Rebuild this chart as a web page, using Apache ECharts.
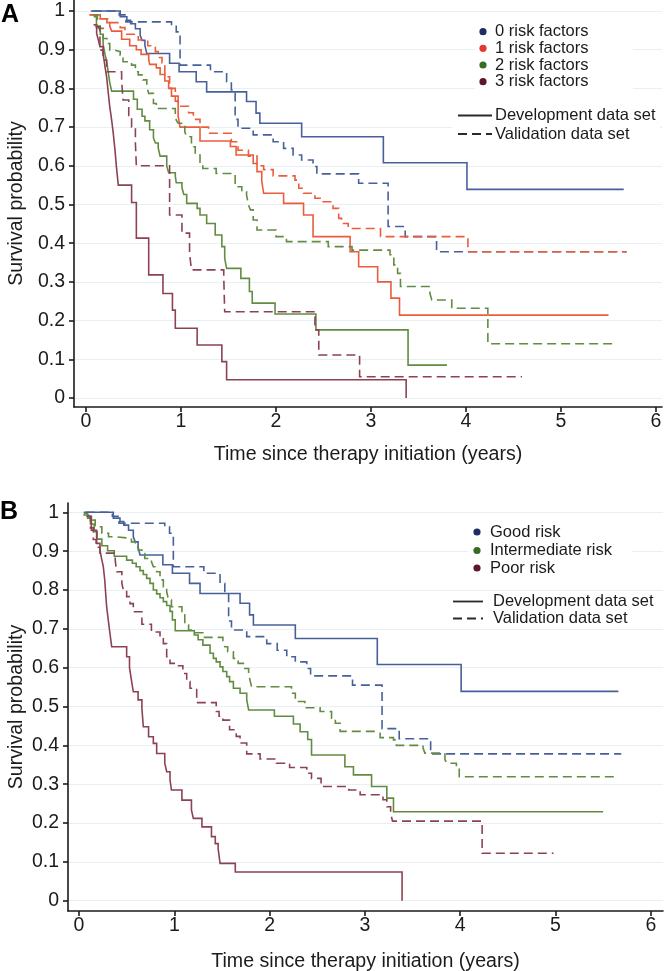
<!DOCTYPE html>
<html>
<head>
<meta charset="utf-8">
<script src="https://cdn.jsdelivr.net/npm/echarts@6/dist/echarts.min.js"></script>
<style>
html,body{margin:0;padding:0;background:#ffffff;}
#chart{width:670px;height:971px;}
</style>
</head>
<body>
<div id="chart"></div>
<script>
// ---------------- DATA ----------------
const xTicks = [0, 1, 2, 3, 4, 5, 6];
const yTicks = [0, 0.1, 0.2, 0.3, 0.4, 0.5, 0.6, 0.7, 0.8, 0.9, 1];
const xTitle = 'Time since therapy initiation (years)';
const yTitle = 'Survival probability';
const groupsA = ['0 risk factors', '1 risk factors', '2 risk factors', '3 risk factors'];
const groupsB = ['Good risk', 'Intermediate risk', 'Poor risk'];
const dataSets = ['Development data set', 'Validation data set'];

// Panel A: 0 risk factors (also "Good risk" in panel B)
const rf0_dev_t = [0.05, 0.36, 0.43, 0.47, 0.52, 0.57, 0.59, 0.62, 0.64, 0.88, 0.98, 1.16, 1.27, 1.69, 1.79, 1.83, 2.27, 3.13, 4.01, 5.66];
const rf0_dev_s = [1.0, 0.985, 0.976, 0.967, 0.954, 0.937, 0.924, 0.911, 0.89, 0.865, 0.843, 0.817, 0.791, 0.766, 0.736, 0.71, 0.675, 0.608, 0.539, 0.539];
const rf0_val_t = [0.07, 0.35, 0.42, 0.90, 0.95, 0.99, 1.31, 1.48, 1.53, 1.57, 1.60, 1.76, 1.97, 2.08, 2.18, 2.27, 2.39, 2.43, 2.87, 3.18, 3.36, 3.69, 5.69];
const rf0_val_s = [1.0, 0.99, 0.972, 0.963, 0.946, 0.86, 0.843, 0.817, 0.796, 0.72, 0.697, 0.68, 0.662, 0.645, 0.628, 0.615, 0.598, 0.579, 0.555, 0.443, 0.417, 0.378, 0.378];

// 1 risk factor
const rf1_dev_t = [0.05, 0.15, 0.22, 0.25, 0.27, 0.375, 0.46, 0.53, 0.58, 0.66, 0.67, 0.74, 0.78, 0.83, 0.87, 0.90, 0.94, 0.97, 0.99, 1.20, 1.52, 1.58, 1.76, 1.80, 1.85, 1.87, 2.08, 2.29, 2.39, 2.78, 2.87, 3.07, 3.21, 3.30, 5.50];
const rf1_dev_s = [0.99, 0.98, 0.97, 0.961, 0.948, 0.927, 0.91, 0.90, 0.888, 0.875, 0.862, 0.853, 0.836, 0.819, 0.80, 0.78, 0.767, 0.728, 0.70, 0.664, 0.65, 0.628, 0.606, 0.585, 0.56, 0.529, 0.503, 0.473, 0.417, 0.378, 0.339, 0.30, 0.258, 0.214, 0.214];
const rf1_val_t = [0.035, 0.11, 0.25, 0.36, 0.41, 0.55, 0.65, 0.73, 0.76, 0.80, 0.83, 0.88, 0.94, 0.97, 1.08, 1.13, 1.20, 1.29, 1.53, 1.60, 1.71, 1.80, 1.87, 1.97, 2.20, 2.24, 2.29, 2.41, 2.48, 2.60, 2.66, 2.69, 2.76, 3.10, 4.02, 5.69];
const rf1_val_s = [0.99, 0.98, 0.97, 0.957, 0.94, 0.925, 0.91, 0.895, 0.88, 0.866, 0.83, 0.80, 0.78, 0.754, 0.737, 0.72, 0.70, 0.684, 0.662, 0.64, 0.625, 0.60, 0.59, 0.574, 0.563, 0.542, 0.529, 0.516, 0.507, 0.49, 0.464, 0.451, 0.438, 0.417, 0.378, 0.378];

// 2 risk factors
const rf2_dev_t = [0.08, 0.11, 0.15, 0.18, 0.20, 0.217, 0.235, 0.25, 0.27, 0.50, 0.54, 0.59, 0.62, 0.67, 0.71, 0.73, 0.76, 0.78, 0.85, 0.87, 0.94, 0.95, 1.01, 1.03, 1.06, 1.17, 1.20, 1.27, 1.36, 1.43, 1.46, 1.48, 1.63, 1.72, 1.75, 1.99, 2.42, 3.39, 3.80];
const rf2_dev_s = [0.985, 0.961, 0.94, 0.914, 0.888, 0.871, 0.84, 0.815, 0.793, 0.772, 0.746, 0.728, 0.716, 0.693, 0.672, 0.659, 0.646, 0.625, 0.599, 0.582, 0.573, 0.556, 0.543, 0.526, 0.503, 0.49, 0.473, 0.451, 0.421, 0.391, 0.361, 0.335, 0.309, 0.275, 0.245, 0.217, 0.176, 0.085, 0.085];
const rf2_val_t = [0.08, 0.12, 0.13, 0.18, 0.22, 0.25, 0.30, 0.36, 0.39, 0.48, 0.52, 0.55, 0.60, 0.64, 0.66, 0.71, 0.74, 0.94, 0.95, 0.97, 1.04, 1.06, 1.11, 1.15, 1.20, 1.23, 1.37, 1.57, 1.64, 1.69, 1.71, 1.73, 1.76, 1.80, 2.00, 2.11, 2.55, 2.80, 3.20, 3.24, 3.28, 3.31, 3.62, 3.64, 3.85, 4.23, 5.55];
const rf2_val_s = [0.99, 0.965, 0.955, 0.929, 0.916, 0.899, 0.895, 0.886, 0.869, 0.86, 0.843, 0.835, 0.822, 0.804, 0.787, 0.761, 0.748, 0.731, 0.718, 0.71, 0.688, 0.675, 0.649, 0.628, 0.606, 0.593, 0.58, 0.546, 0.533, 0.525, 0.499, 0.486, 0.46, 0.434, 0.417, 0.404, 0.391, 0.382, 0.37, 0.344, 0.322, 0.288, 0.27, 0.253, 0.232, 0.14, 0.14];

// 3 risk factors
const rf3_dev_t = [0.08, 0.112, 0.13, 0.147, 0.18, 0.20, 0.217, 0.235, 0.25, 0.27, 0.287, 0.305, 0.32, 0.34, 0.48, 0.53, 0.66, 0.81, 0.91, 0.94, 1.17, 1.43, 1.48, 3.37];
const rf3_dev_s = [0.964, 0.942, 0.925, 0.908, 0.89, 0.856, 0.83, 0.787, 0.753, 0.718, 0.684, 0.641, 0.598, 0.55, 0.505, 0.413, 0.318, 0.27, 0.227, 0.18, 0.137, 0.094, 0.047, 0.0];
const rf3_val_t = [0.10, 0.147, 0.18, 0.217, 0.375, 0.39, 0.45, 0.48, 0.52, 0.53, 0.88, 1.01, 1.09, 1.11, 1.45, 1.46, 2.41, 2.45, 2.88, 4.59];
const rf3_val_s = [0.959, 0.899, 0.873, 0.843, 0.82, 0.77, 0.73, 0.70, 0.658, 0.60, 0.473, 0.426, 0.374, 0.331, 0.313, 0.223, 0.176, 0.111, 0.055, 0.055];

// Panel B: Good risk = 0 risk factors
const good_dev_t = rf0_dev_t, good_dev_s = rf0_dev_s;
const good_val_t = rf0_val_t, good_val_s = rf0_val_s;

// Intermediate risk
const int_dev_t = [0.05, 0.09, 0.12, 0.16, 0.19, 0.24, 0.30, 0.37, 0.50, 0.56, 0.60, 0.64, 0.675, 0.71, 0.745, 0.78, 0.815, 0.85, 0.885, 0.92, 0.955, 0.98, 1.01, 1.21, 1.25, 1.30, 1.375, 1.41, 1.44, 1.48, 1.51, 1.55, 1.58, 1.62, 1.69, 1.76, 1.78, 2.05, 2.25, 2.32, 2.40, 2.44, 2.79, 2.88, 3.07, 3.23, 3.30, 5.50];
const int_dev_s = [0.997, 0.985, 0.97, 0.95, 0.931, 0.914, 0.901, 0.887, 0.877, 0.869, 0.86, 0.85, 0.84, 0.83, 0.817, 0.80, 0.79, 0.78, 0.77, 0.76, 0.745, 0.723, 0.695, 0.684, 0.672, 0.658, 0.637, 0.624, 0.615, 0.602, 0.59, 0.577, 0.564, 0.547, 0.534, 0.517, 0.491, 0.475, 0.455, 0.435, 0.415, 0.375, 0.345, 0.324, 0.294, 0.264, 0.229, 0.229];
const int_val_t = [0.045, 0.10, 0.17, 0.24, 0.31, 0.38, 0.55, 0.59, 0.62, 0.66, 0.69, 0.76, 0.78, 0.815, 0.85, 0.885, 0.92, 0.94, 0.97, 1.08, 1.11, 1.15, 1.20, 1.30, 1.51, 1.53, 1.56, 1.62, 1.67, 1.74, 1.78, 1.79, 1.81, 2.23, 2.27, 2.37, 2.53, 2.65, 2.69, 2.74, 3.12, 3.16, 3.30, 3.33, 3.61, 3.63, 3.84, 3.86, 3.96, 3.99, 5.66];
const int_val_s = [0.993, 0.98, 0.963, 0.946, 0.937, 0.933, 0.924, 0.911, 0.903, 0.894, 0.881, 0.873, 0.86, 0.847, 0.826, 0.808, 0.796, 0.774, 0.757, 0.736, 0.71, 0.697, 0.69, 0.678, 0.667, 0.654, 0.641, 0.624, 0.611, 0.598, 0.585, 0.573, 0.551, 0.534, 0.513, 0.497, 0.487, 0.47, 0.457, 0.436, 0.431, 0.42, 0.414, 0.40, 0.393, 0.38, 0.363, 0.354, 0.345, 0.319, 0.319];

// Poor risk
const poor_dev_t = [0.08, 0.13, 0.185, 0.22, 0.237, 0.255, 0.27, 0.28, 0.29, 0.307, 0.325, 0.343, 0.50, 0.53, 0.55, 0.57, 0.62, 0.66, 0.675, 0.73, 0.78, 0.815, 0.90, 0.92, 0.955, 0.97, 1.08, 1.18, 1.20, 1.29, 1.39, 1.43, 1.46, 1.48, 1.64, 3.39];
const poor_dev_s = [0.99, 0.954, 0.92, 0.903, 0.881, 0.86, 0.826, 0.791, 0.757, 0.723, 0.688, 0.654, 0.628, 0.60, 0.568, 0.538, 0.517, 0.495, 0.448, 0.422, 0.405, 0.379, 0.354, 0.332, 0.311, 0.285, 0.259, 0.233, 0.212, 0.19, 0.165, 0.147, 0.134, 0.096, 0.074, 0.0];
const poor_val_t = [0.08, 0.12, 0.15, 0.18, 0.22, 0.38, 0.395, 0.45, 0.465, 0.50, 0.535, 0.57, 0.66, 0.76, 0.85, 0.885, 0.92, 0.955, 1.01, 1.09, 1.13, 1.165, 1.235, 1.44, 1.47, 1.51, 1.58, 1.65, 1.69, 1.76, 1.90, 2.07, 2.21, 2.39, 2.44, 2.54, 2.83, 2.95, 3.19, 3.23, 3.27, 3.29, 4.23, 4.98];
const poor_val_s = [0.99, 0.96, 0.93, 0.91, 0.895, 0.877, 0.847, 0.817, 0.80, 0.783, 0.765, 0.744, 0.712, 0.692, 0.68, 0.662, 0.628, 0.611, 0.605, 0.585, 0.564, 0.547, 0.51, 0.487, 0.475, 0.465, 0.44, 0.423, 0.406, 0.378, 0.365, 0.354, 0.343, 0.328, 0.315, 0.294, 0.285, 0.273, 0.26, 0.242, 0.225, 0.205, 0.122, 0.122];

// ---------------- STYLE ----------------
const FONT = '"Liberation Sans", Arial, Helvetica, sans-serif';
const INK = '#1b1b1b';
const C_BLUE = '#48609a', C_ORANGE = '#ea5d3a', C_GREEN = '#628c41', C_RED = '#8c4252';
const D_BLUE = '#1f2d62', D_ORANGE = '#e2392a', D_GREEN = '#3b6a22', D_RED = '#5e1728';
const DASH = [9, 5];
const LW = 1.6;
const TICK_FS = 19.5, TITLE_FS = 19.6, LEG_FS = 16.5;

function pairs(t, s) { return t.map((v, i) => [v, s[i]]); }
function km(name, t, s, color, dashed, ai) {
  return {
    type: 'line', name: name, step: 'end', data: pairs(t, s),
    xAxisIndex: ai, yAxisIndex: ai, symbol: 'none', showSymbol: false,
    silent: true, animation: false, z: dashed ? 3 : 2,
    lineStyle: { color: color, width: LW, type: dashed ? DASH : 'solid', cap: 'butt', join: 'miter' }
  };
}
function xAx(gi, min, max, gap) {
  return {
    type: 'value', gridIndex: gi, min: min, max: max,
    axisLine: { show: true, onZero: false, lineStyle: { color: INK, width: 1.6 } },
    axisTick: { show: true, inside: false, length: 5, customValues: xTicks, lineStyle: { color: INK, width: 1.6 } },
    axisLabel: { show: true, customValues: xTicks, margin: 5, fontSize: TICK_FS, color: INK, fontFamily: FONT,
                 formatter: v => String(Math.round(v)) },
    splitLine: { show: false },
    name: xTitle, nameLocation: 'middle', nameGap: gap, nameMoveOverlap: false,
    nameTextStyle: { fontSize: TITLE_FS, color: INK, fontFamily: FONT }
  };
}
function yAx(gi, min, max, gap) {
  return {
    type: 'value', gridIndex: gi, min: min, max: max,
    axisLine: { show: true, onZero: false, lineStyle: { color: INK, width: 1.6 } },
    axisTick: { show: true, inside: false, length: 5, customValues: yTicks, lineStyle: { color: INK, width: 1.6 } },
    axisLabel: { show: true, customValues: yTicks, margin: 9, fontSize: TICK_FS, color: INK, fontFamily: FONT,
                 formatter: v => String(+(+v).toFixed(1)) },
    splitLine: { show: true, lineStyle: { color: '#e7f0f4', width: 1 } },
    name: yTitle, nameLocation: 'middle', nameGap: gap, nameRotate: 90, nameMoveOverlap: false,
    nameTextStyle: { fontSize: TITLE_FS, color: INK, fontFamily: FONT }
  };
}

// legend graphics (white panels behind the keys, as in the original)
function legendBlock(names, dotColors, dotX, ys, textX, lineX0, lineX1, textX2, ly, box1, box2) {
  const g = [];
  g.push({ type: 'rect', shape: box1, style: { fill: '#ffffff' }, silent: true, z: 10 });
  g.push({ type: 'rect', shape: box2, style: { fill: '#ffffff' }, silent: true, z: 10 });
  names.forEach((n, i) => {
    g.push({ type: 'circle', shape: { cx: dotX, cy: ys[i], r: 3.6 }, style: { fill: dotColors[i] }, silent: true, z: 11 });
    g.push({ type: 'text', x: textX, y: ys[i], z: 11, style: { text: n, fill: INK, font: LEG_FS + 'px ' + FONT, align: 'left', verticalAlign: 'middle' }, silent: true });
  });
  g.push({ type: 'line', z: 11, shape: { x1: lineX0, y1: ly[0], x2: lineX1, y2: ly[0] }, style: { stroke: '#2a2a2a', lineWidth: 1.8 }, silent: true });
  g.push({ type: 'line', z: 11, shape: { x1: lineX0, y1: ly[1], x2: lineX1, y2: ly[1] }, style: { stroke: '#2a2a2a', lineWidth: 1.8, lineDash: DASH }, silent: true });
  g.push({ type: 'text', z: 11, x: textX2, y: ly[0], style: { text: dataSets[0], fill: INK, font: LEG_FS + 'px ' + FONT, align: 'left', verticalAlign: 'middle' }, silent: true });
  g.push({ type: 'text', z: 11, x: textX2, y: ly[1], style: { text: dataSets[1], fill: INK, font: LEG_FS + 'px ' + FONT, align: 'left', verticalAlign: 'middle' }, silent: true });
  return g;
}

const graphics = []
  .concat(legendBlock(groupsA, [D_BLUE, D_ORANGE, D_GREEN, D_RED], 483, [31.7, 48.3, 65, 81.7], 495, 458, 492, 495, [115.5, 134],
                      { x: 475, y: 22, width: 158, height: 69 }, { x: 452, y: 105, width: 208, height: 39 }))
  .concat(legendBlock(groupsB, [D_BLUE, D_GREEN, D_RED], 477, [532, 550.5, 568], 490, 453, 483, 493, [601.5, 618.5],
                      { x: 468, y: 522, width: 164, height: 56 }, { x: 447, y: 592, width: 210, height: 36 }))
  .concat([
    { type: 'text', x: 1, y: 3, z: 11, style: { text: 'A', fill: '#000', font: 'bold 25px ' + FONT, align: 'left', verticalAlign: 'top' }, silent: true },
    { type: 'text', x: 0, y: 500, z: 11, style: { text: 'B', fill: '#000', font: 'bold 25px ' + FONT, align: 'left', verticalAlign: 'top' }, silent: true }
  ]);

const chart = echarts.init(document.getElementById('chart'), null, { renderer: 'canvas' });
chart.setOption({
  animation: false,
  backgroundColor: '#ffffff',
  grid: [
    { left: 74, top: 0, right: 8, bottom: 564, outerBoundsMode: 'none', containLabel: false },
    { left: 68, top: 503, right: 7, bottom: 60, outerBoundsMode: 'none', containLabel: false }
  ],
  xAxis: [xAx(0, -0.1263, 6.063, 38), xAx(1, -0.1154, 6.128, 41)],
  yAxis: [yAx(0, -0.0233, 1.0284, 47), yAx(1, -0.0265, 1.024, 41)],
  series: [
    km(groupsA[0] + ' dev', rf0_dev_t, rf0_dev_s, C_BLUE, false, 0),
    km(groupsA[0] + ' val', rf0_val_t, rf0_val_s, C_BLUE, true, 0),
    km(groupsA[1] + ' dev', rf1_dev_t, rf1_dev_s, C_ORANGE, false, 0),
    km(groupsA[1] + ' val', rf1_val_t, rf1_val_s, C_ORANGE, true, 0),
    km(groupsA[2] + ' dev', rf2_dev_t, rf2_dev_s, C_GREEN, false, 0),
    km(groupsA[2] + ' val', rf2_val_t, rf2_val_s, C_GREEN, true, 0),
    km(groupsA[3] + ' dev', rf3_dev_t, rf3_dev_s, C_RED, false, 0),
    km(groupsA[3] + ' val', rf3_val_t, rf3_val_s, C_RED, true, 0),
    km(groupsB[0] + ' dev', good_dev_t, good_dev_s, C_BLUE, false, 1),
    km(groupsB[0] + ' val', good_val_t, good_val_s, C_BLUE, true, 1),
    km(groupsB[1] + ' dev', int_dev_t, int_dev_s, C_GREEN, false, 1),
    km(groupsB[1] + ' val', int_val_t, int_val_s, C_GREEN, true, 1),
    km(groupsB[2] + ' dev', poor_dev_t, poor_dev_s, C_RED, false, 1),
    km(groupsB[2] + ' val', poor_val_t, poor_val_s, C_RED, true, 1)
  ],
  graphic: graphics
});
</script>
</body>
</html>
